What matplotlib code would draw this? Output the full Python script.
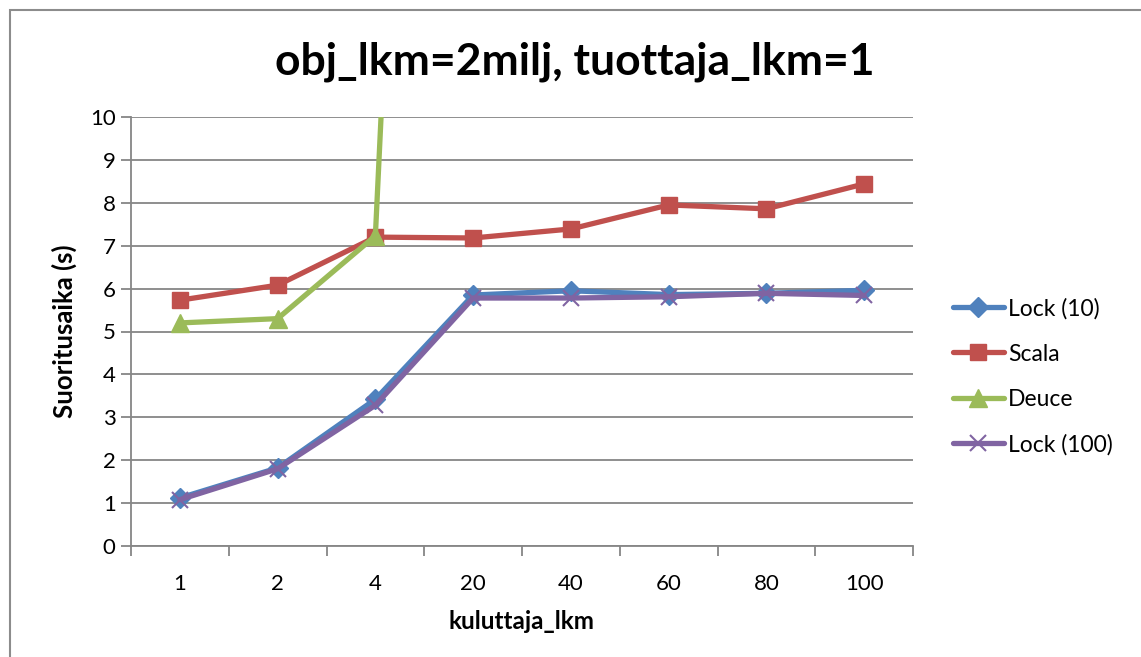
import numpy as np
import matplotlib
matplotlib.use("Agg")
import matplotlib.pyplot as plt
from matplotlib.patches import Rectangle

plt.rcParams["font.family"] = ["Lato", "DejaVu Sans"]

# consumer counts on the x axis (categorical)
categories = ["1", "2", "4", "20", "40", "60", "80", "100"]

# run times in seconds
lock10 = [1.12, 1.82, 3.42, 5.85, 5.95, 5.86, 5.89, 5.96]
scala = [5.73, 6.08, 7.20, 7.18, 7.39, 7.95, 7.86, 8.44]
deuce = [5.20, 5.30, 7.23, 55.0, np.nan, np.nan, np.nan, np.nan]
lock100 = [1.08, 1.80, 3.28, 5.78, 5.78, 5.81, 5.89, 5.84]

series = [
    ("Lock (10)", lock10, "#4F81BD", "D", 10),
    ("Scala", scala, "#C0504D", "s", 12),
    ("Deuce", deuce, "#9BBB59", "^", 13),
    ("Lock (100)", lock100, "#8064A2", "x", 12),
]

fig = plt.figure(figsize=(11.41, 6.57), dpi=100)
# chart border
fig.add_artist(Rectangle((10 / 1141, -0.01), 1.2, 1 - 10 / 657 + 0.01,
                         transform=fig.transFigure, fill=False,
                         edgecolor="#8c8c8c", linewidth=1.5))

ax = fig.add_axes([131 / 1141, 1 - 546 / 657, (913 - 131) / 1141, (546 - 117) / 657])
x = np.arange(len(categories))
for name, vals, col, mk, ms in series:
    kw = dict(markeredgewidth=1.5) if mk == "x" else dict(markeredgecolor=col)
    ax.plot(x, vals, color=col, lw=3.8, marker=mk, ms=ms, label=name,
            solid_joinstyle="round", solid_capstyle="round", **kw)

ax.set_xlim(-0.5, len(categories) - 0.5)
ax.set_ylim(0, 10)
ax.set_yticks(range(0, 11))
ax.set_xticks(np.arange(-0.5, len(categories)), [""] * (len(categories) + 1))
ax.set_xticks(x, categories, minor=True)
ax.tick_params(axis="x", which="minor", length=0, pad=20, labelsize=16)
ax.tick_params(axis="x", which="major", length=7, color="#868686", width=1.3)
ax.tick_params(axis="y", length=7, color="#868686", width=1.3, labelsize=16, pad=4)
ax.grid(axis="y", color="#868686", lw=1.3)
ax.set_axisbelow(True)
for s in ("top", "right"):
    ax.spines[s].set_visible(False)
for s in ("left", "bottom"):
    ax.spines[s].set_color("#868686")
    ax.spines[s].set_linewidth(1.3)

ax.set_xlabel("kuluttaja_lkm", fontsize=17.5, fontweight="bold", labelpad=12)
ax.set_ylabel("Suoritusaika (s)", fontsize=18.5, fontweight="bold", labelpad=9)
fig.text(575 / 1141, 1 - 62 / 657, "obj_lkm=2milj, tuottaja_lkm=1",
         ha="center", va="center", fontsize=32, fontweight="bold")

ax.legend(loc="center left", bbox_to_anchor=(1.025, 0.395), frameon=False,
          fontsize=16.5, handlelength=2.2, handletextpad=0.2, labelspacing=1.05)

fig.savefig("out.png", dpi=100)
